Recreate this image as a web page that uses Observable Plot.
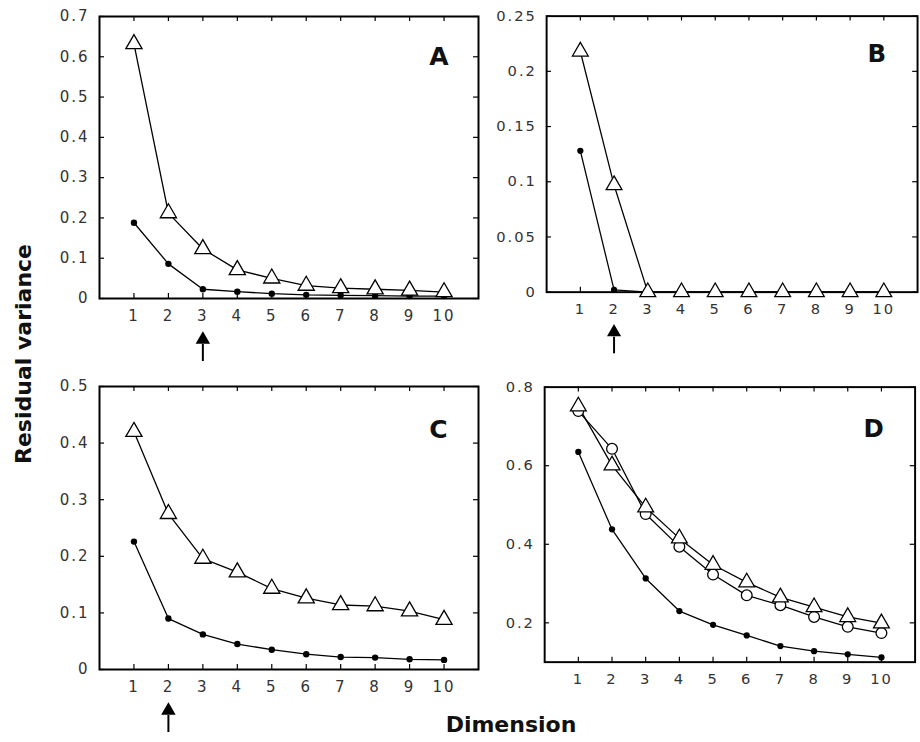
<!DOCTYPE html>
<html>
<head>
<meta charset="utf-8">
<script src="https://cdn.jsdelivr.net/npm/d3@7"></script>
<script src="https://cdn.jsdelivr.net/npm/@observablehq/plot@0.6"></script>
<style>
  html, body { margin: 0; padding: 0; background: #fff; overflow: hidden; }
  #wrap { position: relative; width: 920px; height: 742px; overflow: hidden; background: #fff; }
  .panel { position: absolute; }
  .title { position: absolute; font-family: "DejaVu Sans", sans-serif; font-weight: bold; font-size: 22px; color: #111; white-space: nowrap; }
</style>
</head>
<body>
<div id="wrap"></div>
<script>
// ---------- data ----------
const dims = [1, 2, 3, 4, 5, 6, 7, 8, 9, 10];
const xTickLabels = ["1", "2", "3", "4", "5", "6", "7", "8", "9", "10"];

// Panel A
const aTriangles = [0.632, 0.212, 0.123, 0.071, 0.050, 0.032, 0.026, 0.023, 0.020, 0.016];
const aDots      = [0.188, 0.086, 0.023, 0.017, 0.012, 0.009, 0.008, 0.007, 0.006, 0.006];
const aYTicks    = [0, 0.1, 0.2, 0.3, 0.4, 0.5, 0.6, 0.7];
const aYLabels   = ["0", "0.1", "0.2", "0.3", "0.4", "0.5", "0.6", "0.7"];
const aArrow     = [3];

// Panel B
const bTriangles = [0.218, 0.097, 0, 0, 0, 0, 0, 0, 0, 0];
const bDots      = [0.128, 0.002, 0, 0, 0, 0, 0, 0, 0, 0];
const bYTicks    = [0, 0.05, 0.1, 0.15, 0.2, 0.25];
const bYLabels   = ["0", "0.05", "0.1", "0.15", "0.2", "0.25"];
const bArrow     = [2];

// Panel C
const cTriangles = [0.420, 0.275, 0.196, 0.172, 0.143, 0.126, 0.114, 0.112, 0.103, 0.088];
const cDots      = [0.226, 0.090, 0.062, 0.045, 0.035, 0.027, 0.022, 0.021, 0.018, 0.017];
const cYTicks    = [0, 0.1, 0.2, 0.3, 0.4, 0.5];
const cYLabels   = ["0", "0.1", "0.2", "0.3", "0.4", "0.5"];
const cArrow     = [2];

// Panel D
const dTriangles = [0.751, 0.601, 0.494, 0.415, 0.348, 0.303, 0.265, 0.240, 0.215, 0.199];
const dCircles   = [0.739, 0.643, 0.477, 0.394, 0.323, 0.270, 0.245, 0.215, 0.190, 0.174];
const dDots      = [0.635, 0.438, 0.313, 0.230, 0.195, 0.168, 0.141, 0.128, 0.120, 0.112];
const dYTicks    = [0.2, 0.4, 0.6, 0.8];
const dYLabels   = ["0.2", "0.4", "0.6", "0.8"];

const panelLetters = ["A", "B", "C", "D"];
const yTitle = "Residual variance";
const xTitle = "Dimension";

// ---------- drawing ----------
const rows = arr => dims.map((d, i) => ({dim: d, v: arr[i]}));

function makePanel(cfg) {
  const innerW = cfg.width - cfg.marginLeft - cfg.marginRight;
  const innerH = cfg.height - cfg.marginTop - cfg.marginBottom;
  const marks = [
    Plot.tickX(dims, {x: d => d, insetTop: innerH - 5, stroke: "black", strokeWidth: 1.2}),
    Plot.tickX(dims, {x: d => d, insetBottom: innerH - 5, stroke: "black", strokeWidth: 1.2}),
    Plot.tickY(cfg.yTicks, {y: d => d, insetRight: innerW - 5, stroke: "black", strokeWidth: 1.2}),
    Plot.tickY(cfg.yTicks, {y: d => d, insetLeft: innerW - 5, stroke: "black", strokeWidth: 1.2}),
    Plot.axisX(dims, {tickSize: 0, tickPadding: 12, fontSize: 15, fill: "#333",
      tickFormat: d => xTickLabels[dims.indexOf(d)], label: null}),
    Plot.axisY(cfg.yTicks, {tickSize: 0, tickPadding: 10, fontSize: 15, fill: "#333",
      tickFormat: d => cfg.yLabels[cfg.yTicks.indexOf(d)], label: null}),
    Plot.frame({stroke: "black", strokeWidth: 2})
  ];
  for (const s of cfg.series) {
    marks.push(Plot.line(rows(s.values), {x: "dim", y: "v", stroke: "black", strokeWidth: 1.3}));
  }
  for (const s of cfg.series) {
    if (s.kind === "dot") {
      marks.push(Plot.dot(rows(s.values), {x: "dim", y: "v", r: 3.2, fill: "black"}));
    } else if (s.kind === "triangle") {
      marks.push(Plot.dot(rows(s.values), {x: "dim", y: "v", symbol: "triangle", r: 6, fill: "white", stroke: "black", strokeWidth: 1.3}));
    } else {
      marks.push(Plot.dot(rows(s.values), {x: "dim", y: "v", symbol: "circle", r: 5.5, fill: "white", stroke: "black", strokeWidth: 1.3}));
    }
  }
  marks.push(Plot.text([cfg.letter], {text: d => d, frameAnchor: "top-right", textAnchor: "end",
    dx: cfg.letterDx, dy: cfg.letterDy, fontSize: 25, fontWeight: "bold", fill: "#111"}));
  if (cfg.arrow) {
    marks.push(Plot.ruleX(cfg.arrow, {x: d => d, insetTop: innerH + 46, insetBottom: -63, stroke: "black", strokeWidth: 2}));
    marks.push(Plot.dot(cfg.arrow, {x: d => d, frameAnchor: "bottom", dy: 41, symbol: "triangle", r: 4.4, fill: "black", stroke: "black"}));
  }
  const svg = Plot.plot({
    width: cfg.width, height: cfg.height,
    marginLeft: cfg.marginLeft, marginRight: cfg.marginRight,
    marginTop: cfg.marginTop, marginBottom: cfg.marginBottom,
    x: {domain: [0, 11]},
    y: {domain: cfg.yDomain},
    style: {fontFamily: "DejaVu Sans, sans-serif", background: "transparent", overflow: "visible"},
    marks
  });
  svg.querySelectorAll('g[aria-label$="tick label"]').forEach(g => g.style.letterSpacing = "2px");
  const div = document.createElement("div");
  div.className = "panel";
  div.style.left = cfg.left + "px";
  div.style.top = cfg.top + "px";
  div.appendChild(svg);
  document.getElementById("wrap").appendChild(div);
}

makePanel({left: 0, top: 0, width: 480, height: 370, marginLeft: 99, marginRight: 2, marginTop: 16, marginBottom: 72,
  yDomain: [0, 0.7], yTicks: aYTicks, yLabels: aYLabels, letter: panelLetters[0], letterDx: -30, letterDy: 31,
  arrow: aArrow,
  series: [{kind: "dot", values: aDots}, {kind: "triangle", values: aTriangles}]});

makePanel({left: 460, top: 0, width: 470, height: 370, marginLeft: 88, marginRight: 3, marginTop: 16, marginBottom: 72,
  yDomain: [0, 0.25], yTicks: bYTicks, yLabels: bYLabels, letter: panelLetters[1], letterDx: -32, letterDy: 29,
  arrow: bArrow,
  series: [{kind: "dot", values: bDots}, {kind: "triangle", values: bTriangles}]});

makePanel({left: 0, top: 370, width: 480, height: 372, marginLeft: 99, marginRight: 2, marginTop: 16, marginBottom: 73,
  yDomain: [0, 0.5], yTicks: cYTicks, yLabels: cYLabels, letter: panelLetters[2], letterDx: -31, letterDy: 34,
  arrow: cArrow,
  series: [{kind: "dot", values: cDots}, {kind: "triangle", values: cTriangles}]});

makePanel({left: 460, top: 370, width: 470, height: 372, marginLeft: 86, marginRight: 5.5, marginTop: 17, marginBottom: 74,
  yDomain: [0.1, 0.8], yTicks: dYTicks, yLabels: dYLabels, letter: panelLetters[3], letterDx: -32, letterDy: 33,
  arrow: null,
  series: [{kind: "dot", values: dDots}, {kind: "circle", values: dCircles}, {kind: "triangle", values: dTriangles}]});

// axis titles
const wrap = document.getElementById("wrap");
const yt = document.createElement("div");
yt.className = "title";
yt.textContent = yTitle;
yt.style.left = "23px";
yt.style.top = "354px";
yt.style.transform = "translate(-50%, -50%) rotate(-90deg)";
wrap.appendChild(yt);
const xt = document.createElement("div");
xt.className = "title";
xt.textContent = xTitle;
xt.style.left = "511px";
xt.style.top = "724px";
xt.style.transform = "translate(-50%, -50%)";
wrap.appendChild(xt);
</script>
</body>
</html>
